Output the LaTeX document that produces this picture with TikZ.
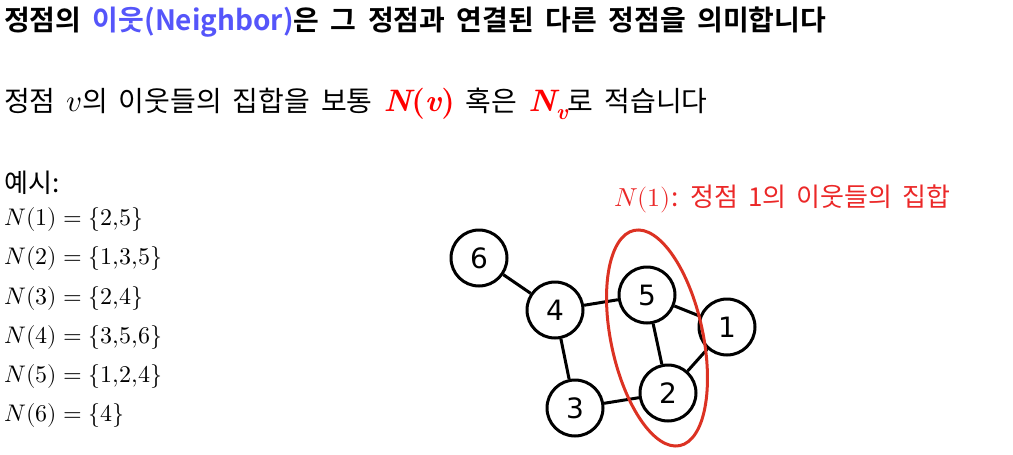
\documentclass[tikz,border=0pt]{standalone}
\usepackage{fontspec}
\usepackage{unicode-math}
\setmainfont{Noto Sans CJK KR}[WordSpace=1.75]
\setmathfont{Latin Modern Math}
\newfontfamily\krb{Noto Sans CJK KR Bold}[WordSpace=1.8]
\newfontfamily\dejavu{DejaVu Sans}
\newfontfamily\lmr{Latin Modern Roman}
\newcommand{\bi}[1]{{\lmr\bfseries\itshape #1}}
\newcommand{\bu}[1]{{\lmr\bfseries #1}}
\definecolor{titleblue}{RGB}{85,85,250}
\definecolor{capred}{RGB}{235,40,40}
\definecolor{ellred}{RGB}{220,50,35}
\begin{document}
\begin{tikzpicture}[x=1pt,y=-1pt,
  vtx/.style={circle,draw=black,line width=3pt,minimum size=56pt,inner sep=0pt,font=\dejavu\fontsize{28}{28}\selectfont},
  edge/.style={line width=3pt},
  txt/.style={anchor=west,inner sep=0pt},
  lst/.style={anchor=west,inner sep=0pt,font=\fontsize{24}{24}\selectfont}]
\useasboundingbox (0,0) rectangle (1013,455);
\node[txt,font=\krb\fontsize{28}{28}\selectfont] (title) at (4,22) {정점의 \textcolor{titleblue}{이웃(Neighbor)}은 그 정점과 연결된 다른 정점을 의미합니다};
\node[txt,font=\fontsize{28}{28}\selectfont] (line2) at (4,104) {정점 {\fontsize{31}{31}\selectfont$v$}의 이웃들의 집합을 보통 \textcolor{red}{\fontsize{31}{31}\selectfont\bi{N}\bu{(}\bi{v}\bu{)}} 혹은 \textcolor{red}{\fontsize{31}{31}\selectfont\bi{N}\raisebox{-0.25em}{\fontsize{22}{22}\selectfont\bi{v}}}로 적습니다};
\node[txt,font=\fontsize{26}{26}\selectfont] (ex) at (4,183) {예시:};
\node[lst] (l1) at (4,219) {$N(1)=\{2{,}5\}$};
\node[lst] (l2) at (4,258) {$N(2)=\{1{,}3{,}5\}$};
\node[lst] (l3) at (4,298) {$N(3)=\{2{,}4\}$};
\node[lst] (l4) at (4,337) {$N(4)=\{3{,}5{,}6\}$};
\node[lst] (l5) at (4,376) {$N(5)=\{1{,}2{,}4\}$};
\node[lst] (l6) at (4,415) {$N(6)=\{4\}$};
\node[txt,font=\fontsize{26}{26}\selectfont,text=capred] (cap) at (614,199) {$N(1)$: 정점 1의 이웃들의 집합};
\node[vtx] (n6) at (479,258) {6};
\node[vtx] (n4) at (555,310) {4};
\node[vtx] (n5) at (647,295) {5};
\node[vtx] (n1) at (727,327) {1};
\node[vtx] (n2) at (668,393) {2};
\node[vtx] (n3) at (575,408) {3};
\draw[edge] (n6) -- (n4);
\draw[edge] (n4) -- (n5);
\draw[edge] (n4) -- (n3);
\draw[edge] (n5) -- (n1);
\draw[edge] (n5) -- (n2);
\draw[edge] (n1) -- (n2);
\draw[edge] (n3) -- (n2);
\draw[ellred,line width=3pt,rotate around={12:(657,338)}] (657,338) ellipse (46 and 110);
\end{tikzpicture}
\end{document}
